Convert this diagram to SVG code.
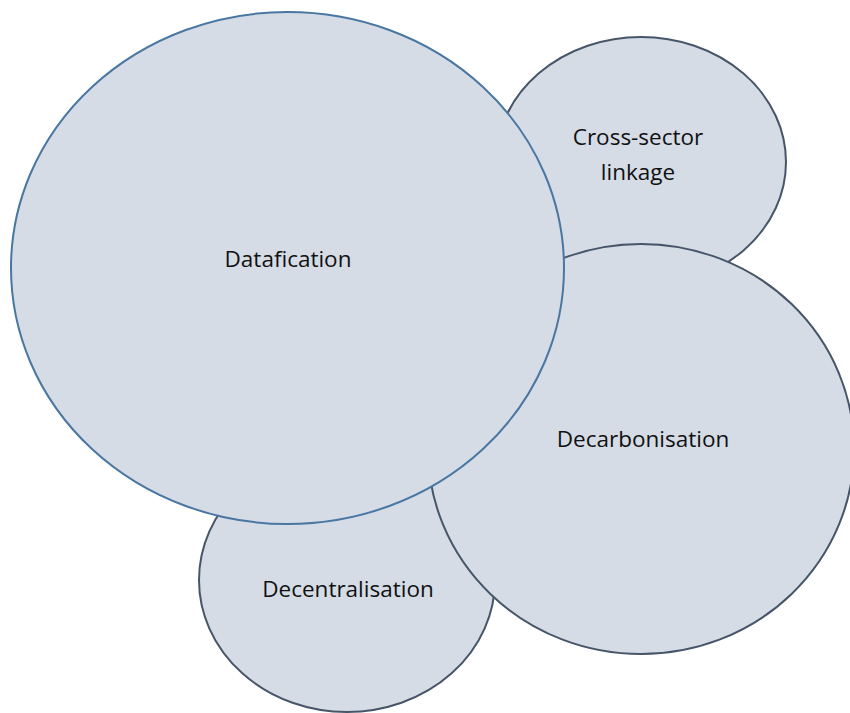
<svg xmlns="http://www.w3.org/2000/svg" width="850" height="713" viewBox="0 0 850 713">
<style>
.b{fill:#d5dce6;stroke:#475569;stroke-width:2}
.m{fill:#d5dce6;stroke:#4a76a2;stroke-width:2}
text{font-family:"Open Sans","Liberation Sans",sans-serif;font-size:22.5px;fill:#111;text-anchor:middle}
</style>
<rect width="850" height="713" fill="#fff"/>
<g id="cross-sector"><ellipse class="b" cx="641" cy="162" rx="145" ry="125"/><text x="638" y="145">Cross-sector</text><text x="638" y="180">linkage</text></g>
<g id="decentralisation"><ellipse class="b" cx="347" cy="580" rx="148" ry="132"/><text x="348" y="597">Decentralisation</text></g>
<g id="decarbonisation"><ellipse class="b" cx="641" cy="449" rx="213" ry="205"/><text x="643" y="447">Decarbonisation</text></g>
<g id="datafication"><ellipse class="m" cx="287.5" cy="268" rx="276.5" ry="256"/><text x="288" y="267">Datafication</text></g>
<g id="connectors"/>
</svg>
